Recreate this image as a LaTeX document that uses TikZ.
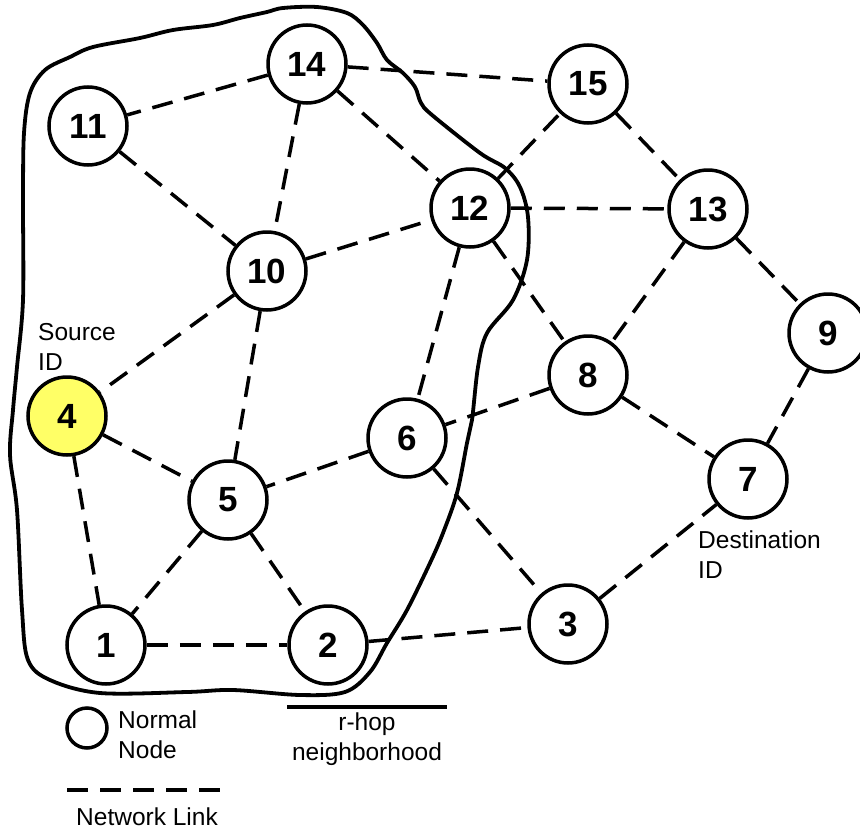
\documentclass[tikz,border=0pt]{standalone}
\usepackage{fontspec}
\setmainfont{Liberation Sans}
\begin{document}
\begin{tikzpicture}[x=1pt,y=-1pt,
  netnode/.style={circle,draw=black,line width=3.5pt,fill=white,minimum size=78pt,inner sep=0pt,
    font=\fontsize{35}{40}\selectfont\bfseries},
  srcnode/.style={netnode,fill=srcyellow},
  link/.style={line width=3.5pt,dash pattern=on 21pt off 12pt},
  hood/.style={line width=3.8pt,line join=round},
  lbl/.style={font=\fontsize{24.5}{30}\selectfont,inner sep=0pt,align=left}]
\definecolor{srcyellow}{RGB}{255,255,102}
\useasboundingbox (0,0) rectangle (860,830);

% r-hop neighbourhood boundary
\draw[hood] plot[smooth cycle,tension=0.55] coordinates {
  (317,7) (347,13) (363,25) (377,43) (387,60) (403,73) (415,87) (421,103) (432,115)
  (480,153) (505,168) (520,187) (528,217) (527,260) (513,300) (487,333) (478,367)
  (472,420) (467,443) (457,493) (443,533) (430,563) (407,610) (387,643) (370,672)
  (345,692) (300,695) (233,690) (187,692) (100,693) (50,680) (28,660) (22,610)
  (17,510) (10,455) (13,410) (17,367) (23,300) (23,200) (24,133) (30,93) (45,70)
  (70,57) (93,47) (140,38) (173,30) (213,25) (240,18) (267,12) (283,8)};

% network nodes
\node[netnode] (n14) at (307,64) {14};
\node[netnode] (n15) at (588,84) {15};
\node[netnode] (n11) at (88,126) {11};
\node[netnode] (n12) at (470,208) {12};
\node[netnode] (n13) at (708,209) {13};
\node[netnode] (n10) at (267,271) {10};
\node[netnode] (n9)  at (828,333) {9};
\node[netnode] (n8)  at (588,375) {8};
\node[srcnode] (n4)  at (67,416) {4};
\node[netnode] (n6)  at (407,438) {6};
\node[netnode] (n7)  at (748,479) {7};
\node[netnode] (n5)  at (228,500) {5};
\node[netnode] (n3)  at (568,624) {3};
\node[netnode] (n1)  at (106,645) {1};
\node[netnode] (n2)  at (328,645) {2};

% network links
\foreach \a/\b in {14/11,14/15,14/10,14/12,11/10,10/12,10/4,10/5,12/15,12/13,12/8,12/6,
                   15/13,13/8,13/9,9/7,8/7,8/6,6/5,6/3,4/5,4/1,5/1,5/2,1/2,2/3,3/7}
  \draw[link] (n\a) -- (n\b);

% annotations (base anchor sits on the last line)
\node[lbl,anchor=base west] (src) at (38,370) {Source\\ID};
\node[lbl,anchor=base west] (dst) at (698,578) {Destination\\ID};

% legend
\node[circle,draw=black,line width=3.5pt,minimum size=40pt,inner sep=0pt] (lgnode) at (87,728) {};
\node[lbl,anchor=base west] (lgnodetxt) at (118,758) {Normal\\Node};
\coordinate (hoodA) at (287,707);
\coordinate (hoodB) at (447,707);
\draw[line width=3.5pt] (hoodA) -- (hoodB);
\node[lbl,align=center,anchor=base] (hoodtxt) at (367,760) {r-hop\\neighborhood};
\coordinate (linkA) at (67,790);
\coordinate (linkB) at (220,790);
\draw[link] (linkA) -- (linkB);
\node[lbl,anchor=base west] (linktxt) at (76,825) {Network Link};
\end{tikzpicture}
\end{document}
